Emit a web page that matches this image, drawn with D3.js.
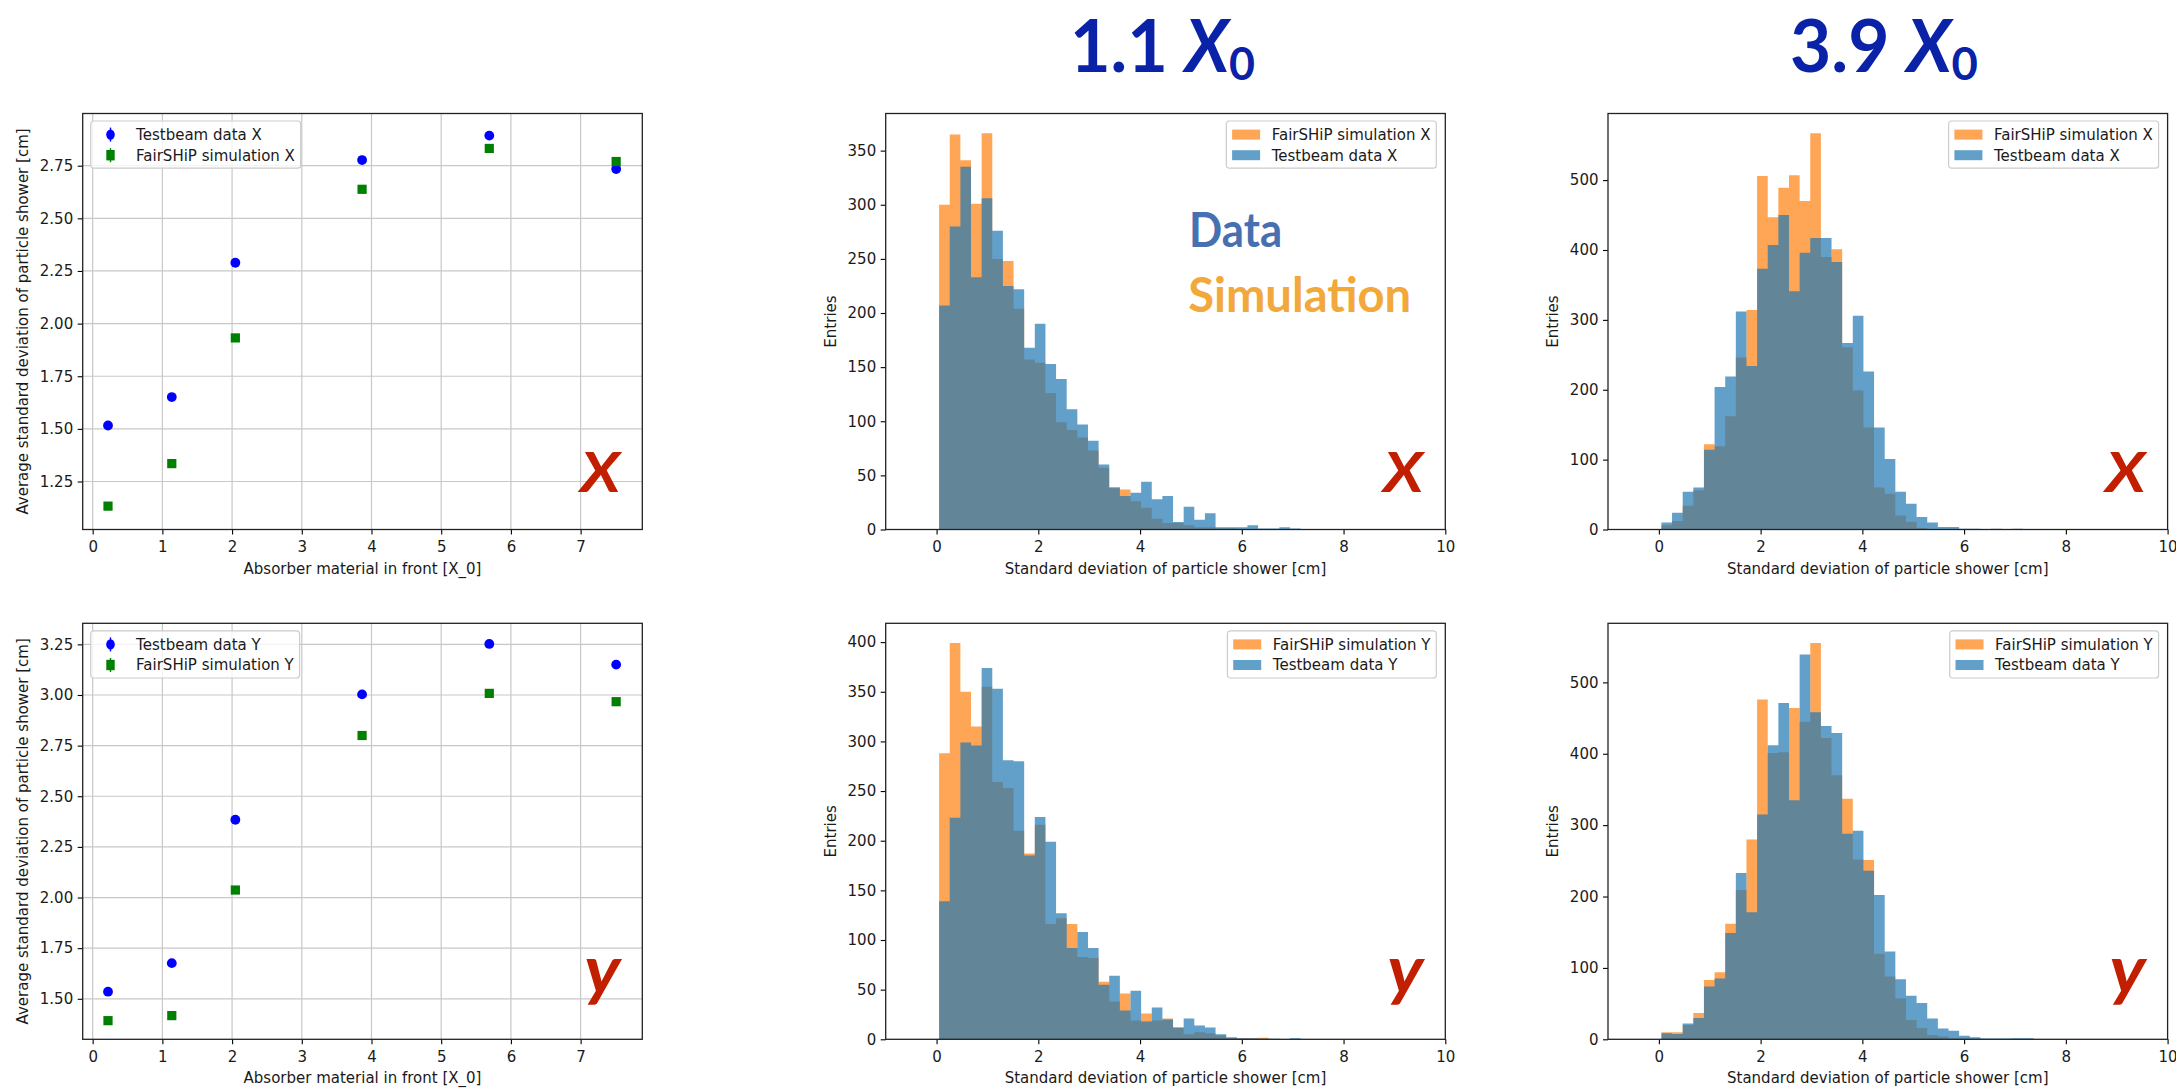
<!DOCTYPE html>
<html>
<head>
<meta charset="utf-8">
<script src="https://cdn.jsdelivr.net/npm/d3@7"></script>
<style>
  body { margin: 0; background: #fff; }
  svg text { font-family: "DejaVu Sans", sans-serif; }
</style>
</head>
<body>
<svg id="fig" width="2176" height="1089"></svg>
<script>
// ---- data ----
// absorber in front [X_0]
const absorber = [0.22, 1.135, 2.047, 3.865, 5.69, 7.51];
const testbeamX = [1.516, 1.651, 2.289, 2.777, 2.893, 2.734];
const fairshipX = [1.133, 1.335, 1.932, 2.638, 2.832, 2.770];
const testbeamY = [1.535, 1.676, 2.384, 3.003, 3.252, 3.150];
const fairshipY = [1.392, 1.417, 2.037, 2.800, 3.008, 2.967];

// histogram bins (cm)
const binStart = 0.05, binWidth = 0.209;

// 1.1 X0
const sim11X  = [300, 365, 341, 301, 366, 250, 248, 204, 157, 154, 126, 99, 92, 85, 73, 57, 38, 37, 26, 20, 10, 6, 6, 4, 2, 2, 1, 1, 0.5, 0.5, 0, 0, 0, 0, 0];
const data11X = [207, 280, 335, 233, 306, 276, 225, 222, 168, 190, 153, 139, 111, 97, 82, 60, 39, 31, 34, 44, 28, 31, 7, 21, 9, 15, 2, 2, 2, 4, 1, 1, 2, 1, 0];
const sim11Y  = [288, 399, 350, 315, 355, 259, 253, 210, 187, 216, 116, 122, 116, 83, 82, 58, 38, 46, 19, 26, 19, 21, 12, 5, 7, 6, 4, 1, 1, 1, 1.5, 0, 0, 0];
const data11Y = [139, 223, 299, 296, 374, 353, 281, 280, 185, 224, 199, 127, 92, 108, 92, 55, 64, 29, 49, 18, 32, 20, 12, 21, 14, 12, 5, 2, 1, 1, 0.5, 0.5, 0, 1];

// 3.9 X0
const sim39X  = [6, 12, 34, 56, 122, 119, 162, 246, 314, 506, 447, 489, 507, 470, 567, 390, 401, 261, 199, 146, 60, 51, 20, 11, 2, 0.5, 0, 0, 0, 0];
const data39X = [10, 24, 54, 60, 114, 204, 219, 312, 234, 373, 407, 450, 341, 396, 417, 417, 383, 267, 306, 226, 146, 101, 54, 37, 18, 10, 3.5, 3.5, 1, 1, 0.5, 1, 0.5, 1, 0.5];
const sim39Y  = [10, 10, 20, 37, 83, 94, 162, 209, 280, 476, 401, 402, 464, 445, 555, 422, 370, 337, 252, 251, 120, 88, 57, 27, 16, 6, 4, 1.5, 1, 0];
const data39Y = [8.5, 7.5, 22, 30, 74, 85, 149, 233, 178, 315, 412, 471, 335, 539, 458, 439, 429, 288, 292, 236, 202, 123, 84, 61, 51, 29, 15, 12, 5, 3, 1, 1, 1, 1.5, 1.5];

const scatterXTicks = [0, 1, 2, 3, 4, 5, 6, 7];
const scatterYTicksX = [1.25, 1.50, 1.75, 2.00, 2.25, 2.50, 2.75];
const scatterYTicksY = [1.50, 1.75, 2.00, 2.25, 2.50, 2.75, 3.00, 3.25];
const histXTicks = [0, 2, 4, 6, 8, 10];

// ---- layout ----
const svg = d3.select("#fig");
const colLeft = [82.7, 885.7, 1608];
const rowTop = [113.5, 623.3];
const plotW = 559.6, plotH = 416;
const FS = 15;
const TEXT = "#1a1a1a";

function panel(col, row) {
	return svg.append("g").attr("transform", `translate(${colLeft[col]},${rowTop[row]})`);
}

function styleAxis(sel) {
	sel.attr("font-family", null).attr("font-size", null);
	sel.select(".domain").remove();
	sel.selectAll(".tick line").attr("stroke", "#000").attr("stroke-width", 1.1);
	sel.selectAll(".tick text").attr("fill", TEXT).style("font-size", FS + "px");
}

function axes(g, x, y, xTicks, yTicks, yFmt, xLabel, yLabel, yLabelX) {
	g.append("g")
		.attr("transform", `translate(0,${plotH})`)
		.call(d3.axisBottom(x).tickValues(xTicks).tickSize(5).tickSizeOuter(0).tickPadding(7).tickFormat(d3.format("d")))
		.call(styleAxis);
	g.append("g")
		.call(d3.axisLeft(y).tickValues(yTicks).tickSize(5).tickSizeOuter(0).tickPadding(4.5).tickFormat(yFmt))
		.call(styleAxis);
	g.append("rect")
		.attr("width", plotW).attr("height", plotH)
		.attr("fill", "none").attr("stroke", "#222").attr("stroke-width", 1.3);
	g.append("text")
		.attr("x", plotW / 2).attr("y", plotH + 44)
		.attr("text-anchor", "middle").attr("fill", TEXT).style("font-size", FS + "px")
		.text(xLabel);
	g.append("text")
		.attr("transform", `translate(${yLabelX},${plotH / 2}) rotate(-90)`)
		.attr("text-anchor", "middle").attr("dy", "0.35em").attr("fill", TEXT).style("font-size", FS + "px")
		.text(yLabel);
}

function letterLabel(g, letter) {
	const isY = letter === "y";
	g.append("text")
		.attr("x", plotW - 22)
		.attr("y", isY ? plotH - 46 : plotH - 38)
		.attr("text-anchor", "end")
		.attr("fill", "#c21f00")
		.attr("textLength", isY ? 36 : 40).attr("lengthAdjust", "spacingAndGlyphs")
		.style("font-family", "Lato, 'Open Sans', sans-serif")
		.style("font-weight", "bold").style("font-style", "italic")
		.style("font-size", isY ? "66px" : "55px")
		.text(letter);
}

function legendBox(g, items, anchorRight) {
	const lg = g.append("g");
	const frame = lg.append("rect");
	const pad = 5.8, handle = 28, gap = 11.6, rowH = 20.6;
	let maxW = 0;
	items.forEach((it, i) => {
		const cy = pad + 7.8 + i * rowH;
		const t = lg.append("text")
			.attr("x", pad + handle + gap).attr("y", cy).attr("dy", "0.36em")
			.attr("fill", TEXT).style("font-size", FS + "px").text(it.label);
		maxW = Math.max(maxW, t.node().getComputedTextLength());
		it.draw(lg, pad + handle / 2, cy);
	});
	const bw = pad + handle + gap + maxW + pad;
	const bh = pad * 2 + 15 + rowH;
	frame.attr("width", bw).attr("height", bh).attr("rx", 3)
		.attr("fill", "#fff").attr("fill-opacity", 0.8)
		.attr("stroke", "#cccccc").attr("stroke-width", 1.2);
	const lx = anchorRight ? plotW - 9 - bw : 8;
	lg.attr("transform", `translate(${lx},7.5)`);
}

function drawScatter(col, row, dataVals, simVals, yDomain, yTicks, names, letter) {
	const g = panel(col, row);
	const x = d3.scaleLinear().domain([-0.143, 7.885]).range([0, plotW]);
	const y = d3.scaleLinear().domain(yDomain).range([plotH, 0]);

	// grid
	g.selectAll(".gx").data(scatterXTicks).join("line")
		.attr("x1", d => x(d)).attr("x2", d => x(d)).attr("y1", 0).attr("y2", plotH)
		.attr("stroke", "#c8c8c8").attr("stroke-width", 1.2);
	g.selectAll(".gy").data(yTicks).join("line")
		.attr("x1", 0).attr("x2", plotW).attr("y1", d => y(d)).attr("y2", d => y(d))
		.attr("stroke", "#c8c8c8").attr("stroke-width", 1.2);

	axes(g, x, y, scatterXTicks, yTicks, d3.format(".2f"),
		"Absorber material in front [X_0]",
		"Average standard deviation of particle shower [cm]", -60);

	letterLabel(g, letter);

	// points
	g.selectAll(".data").data(absorber).join("circle")
		.attr("cx", d => x(d)).attr("cy", (d, i) => y(dataVals[i])).attr("r", 4.9)
		.attr("fill", "#0000ff");
	g.selectAll(".sim").data(absorber).join("rect")
		.attr("x", d => x(d) - 4.6).attr("y", (d, i) => y(simVals[i]) - 4.6)
		.attr("width", 9.2).attr("height", 9.2)
		.attr("fill", "#008000");

	legendBox(g, [
		{ label: names[0], draw: (lg, cx, cy) => {
			lg.append("line").attr("x1", cx).attr("x2", cx).attr("y1", cy - 7).attr("y2", cy + 7).attr("stroke", "#0000ff").attr("stroke-width", 1.4);
			lg.append("ellipse").attr("cx", cx).attr("cy", cy).attr("rx", 4.3).attr("ry", 5.2).attr("fill", "#0000ff");
		} },
		{ label: names[1], draw: (lg, cx, cy) => {
			lg.append("line").attr("x1", cx).attr("x2", cx).attr("y1", cy - 7).attr("y2", cy + 7).attr("stroke", "#008000").attr("stroke-width", 1.4);
			lg.append("rect").attr("x", cx - 4.2).attr("y", cy - 5.2).attr("width", 8.4).attr("height", 10.4).attr("fill", "#008000");
		} }
	], false);
}

function histPath(x, y, counts) {
	const p = d3.path();
	p.moveTo(x(binStart), y(0));
	counts.forEach((c, i) => {
		p.lineTo(x(binStart + i * binWidth), y(c));
		p.lineTo(x(binStart + (i + 1) * binWidth), y(c));
	});
	p.lineTo(x(binStart + counts.length * binWidth), y(0));
	p.closePath();
	return p.toString();
}

function drawHist(col, row, simCounts, dataCounts, yTicks, names, letter) {
	const g = panel(col, row);
	const x = d3.scaleLinear().domain([-1, 10]).range([0, plotW]);
	const yMax = d3.max(simCounts.concat(dataCounts)) * 1.05;
	const y = d3.scaleLinear().domain([0, yMax]).range([plotH, 0]);

	g.append("path").attr("d", histPath(x, y, simCounts))
		.attr("fill", "#ff7f0e").attr("fill-opacity", 0.7);
	g.append("path").attr("d", histPath(x, y, dataCounts))
		.attr("fill", "#1f77b4").attr("fill-opacity", 0.7);

	axes(g, x, y, histXTicks, yTicks, d3.format("d"),
		"Standard deviation of particle shower [cm]", "Entries", -55);

	letterLabel(g, letter);

	legendBox(g, [
		{ label: names[0], draw: (lg, cx, cy) => lg.append("rect").attr("x", cx - 14).attr("y", cy - 5).attr("width", 28).attr("height", 10).attr("fill", "#ff7f0e").attr("fill-opacity", 0.7) },
		{ label: names[1], draw: (lg, cx, cy) => lg.append("rect").attr("x", cx - 14).attr("y", cy - 5).attr("width", 28).attr("height", 10).attr("fill", "#1f77b4").attr("fill-opacity", 0.7) }
	], true);
	return g;
}

// ---- left column: averages ----
drawScatter(0, 0, testbeamX, fairshipX, [1.022, 2.998], scatterYTicksX,
	["Testbeam data X", "FairSHiP simulation X"], "X");
drawScatter(0, 1, testbeamY, fairshipY, [1.300, 3.354], scatterYTicksY,
	["Testbeam data Y", "FairSHiP simulation Y"], "y");

// ---- histograms ----
const g11 = drawHist(1, 0, sim11X, data11X, d3.range(0, 351, 50),
	["FairSHiP simulation X", "Testbeam data X"], "X");
drawHist(1, 1, sim11Y, data11Y, d3.range(0, 401, 50),
	["FairSHiP simulation Y", "Testbeam data Y"], "y");
drawHist(2, 0, sim39X, data39X, d3.range(0, 501, 100),
	["FairSHiP simulation X", "Testbeam data X"], "X");
drawHist(2, 1, sim39Y, data39Y, d3.range(0, 501, 100),
	["FairSHiP simulation Y", "Testbeam data Y"], "y");

// Data / Simulation annotation in the 1.1 X0 panel
g11.append("text").attr("x", 303.4).attr("y", 133)
	.attr("fill", "#4670b0").attr("textLength", 93).attr("lengthAdjust", "spacingAndGlyphs")
	.style("font-family", "Lato, sans-serif").style("font-weight", "bold").style("font-size", "48px")
	.text("Data");
g11.append("text").attr("x", 302.5).attr("y", 198)
	.attr("fill", "#f2a83a").attr("textLength", 223).attr("lengthAdjust", "spacingAndGlyphs")
	.style("font-family", "Lato, sans-serif").style("font-weight", "bold").style("font-size", "48px")
	.text("Simulation");

// column titles
function title(cx, num, w) {
	const t = svg.append("text").attr("x", cx).attr("y", 72).attr("text-anchor", "middle")
		.attr("fill", "#0a22a8").attr("textLength", w).attr("lengthAdjust", "spacingAndGlyphs")
		.style("font-family", "Lato, sans-serif").style("font-weight", "bold").style("font-size", "72px");
	t.append("tspan").text(num + " ");
	t.append("tspan").style("font-style", "italic").text("X");
	t.append("tspan").attr("dy", 8).style("font-size", "46px").text("0");
}
title(1162.5, "1.1", 185);
title(1884, "3.9", 188);
</script>
</body>
</html>
